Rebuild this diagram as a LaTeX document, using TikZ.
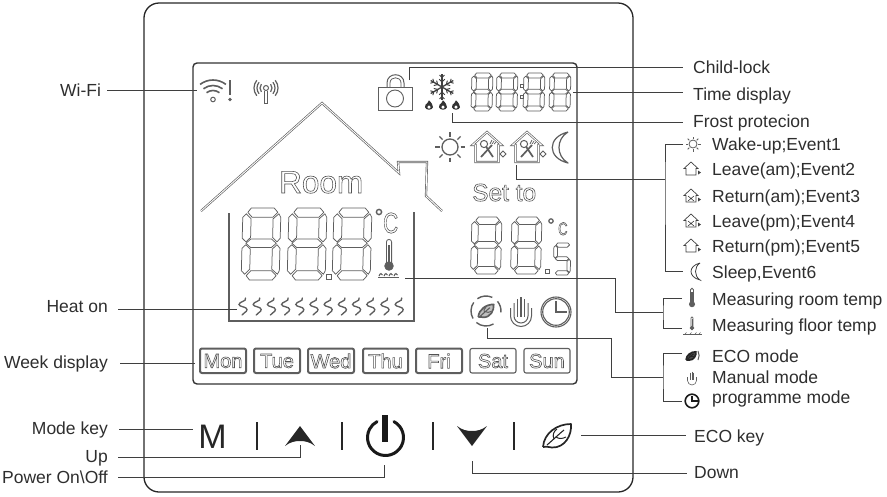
\documentclass[tikz,border=0pt]{standalone}
\usepackage{fontspec}
\setmainfont{Liberation Sans}
\definecolor{lcdgray}{HTML}{5E5E5E}
\definecolor{leadc}{HTML}{3F3F3F}
\definecolor{labc}{HTML}{2E2E2E}
\newcommand{\outl}[1]{\special{pdf:code 1 Tr 0.6 w 0.32 G}#1\special{pdf:code 0 Tr}}
\newcommand{\segtop}{\draw[segl] (.13,.06)--(.22,0)--(.82,0)--(.92,.06)--(.79,.13)--(.25,.13)--cycle;}
\newcommand{\segul}{\draw[segl] (.09,.08)--(.22,.15)--(.22,.41)--(.10,.47)--(0,.42)--(0,.13)--cycle;}
\newcommand{\segur}{\draw[segl] (.95,.08)--(.80,.15)--(.80,.41)--(.92,.47)--(1,.42)--(1,.13)--cycle;}
\newcommand{\segmid}{\draw[segl] (.10,.49)--(.23,.43)--(.77,.43)--(.90,.49)--(.77,.55)--(.23,.55)--cycle;}
\newcommand{\segll}{\draw[segl] (.09,.92)--(.22,.85)--(.22,.57)--(.10,.51)--(0,.56)--(0,.87)--cycle;}
\newcommand{\seglr}{\draw[segl] (.95,.92)--(.80,.85)--(.80,.57)--(.92,.51)--(1,.56)--(1,.87)--cycle;}
\newcommand{\segbot}{\draw[segl] (.13,.94)--(.22,1)--(.82,1)--(.92,.94)--(.79,.87)--(.25,.87)--cycle;}
\newcommand{\sevenseg}[4]{\begin{scope}[shift={(#1,#2)},xscale=#3,yscale=#4,xslant=.05]\segtop\segul\segur\segmid\segll\seglr\segbot\end{scope}}
\tikzset{
  x=1pt,y=-1pt,
  segl/.style={draw=lcdgray,line width=.75pt,line join=round},
  lcdl/.style={draw=lcdgray,line width=.7pt},
  lead/.style={draw=leadc,line width=.8pt},
  lab/.style={anchor=base west,inner sep=0pt,text=labc,font=\fontsize{17.5}{20}\selectfont},
  labr/.style={lab,anchor=base east},
  dayb/.style={draw=lcdgray,rounded corners=2pt,line width=1.1pt},
  dayc/.style={draw=lcdgray,rounded corners=2pt,line width=2pt},
  dayt/.style={anchor=center,inner sep=0pt,font=\fontsize{20}{22}\selectfont},
  houseline/.style={draw=lcdgray,double=white,double distance=.9pt,line width=.65pt,line join=miter},
  iconw/.initial=1.3pt,
  leaffill/.initial=none,
  pics/sunicon/.style={code={
    \draw[lcdl,line width=\pgfkeysvalueof{/tikz/iconw}] (0,0) circle[radius=8];
    \foreach \a in {0,45,...,315}{\draw[lcdl,line width=\pgfkeysvalueof{/tikz/iconw}] (\a:10.5) -- (\a:15);}
  }},
  pics/bighouse/.style={code={
    \draw[houseline] (-11.5,-2)--(-14.5,-2)--(0,-15)--(14.5,-2)--(11.5,-2)--(11.5,15)--(-11.5,15)--cycle;
    \draw[lcdl,line width=1.7pt] (-1,-.5)--(6,10);
    \draw[lcdl,line width=1pt] (-3,-3) circle[radius=3.6];
    \draw[lcdl,line width=1.7pt] (-6,10)--(5,-2);
    \foreach \d in {0,2,4}{\draw[lcdl,line width=.7pt] ({3+\d},-3)--({5+\d},-7+\d/2);}
    \draw[lcdl,line width=.8pt] (13,7)--(16,4)--(19,7)--(16,10)--cycle;
  }},
  pics/smallhouse/.style={code={
    \draw[leadc,line width=.7pt] (-5,-.5)--(-7,-.5)--(0,-7)--(7,-.5)--(5,-.5)--(5,6)--(-5,6)--cycle;
    \fill[leadc] (7,1.5)--(10,3.5)--(7,5.5)--cycle;
  }},
  pics/smallhousex/.style={code={
    \draw[leadc,line width=.7pt] (-5,-.5)--(-7,-.5)--(0,-7)--(7,-.5)--(5,-.5)--(5,6)--(-5,6)--cycle;
    \draw[leadc,line width=.6pt] (-3,0)--(3,5) (3,0)--(-3,5);
    \fill[leadc] (7,1.5)--(10,3.5)--(7,5.5)--cycle;
  }},
  pics/thermo/.style={code={
    \draw[lcdl,line width=.8pt] (-2.6,9)--(-2.6,-12) arc[start angle=180,end angle=360,radius=2.6]--(2.6,9);
    \draw[lcdl,fill=lcdgray,line width=.8pt] (0,12) circle[radius=4.3];
    \fill[lcdgray] (-1,10) rectangle (1,-9);
  }},
  pics/waves/.style={code={
    \foreach \k in {0,1,2,3}{\draw[lcdl,line width=1.1pt] ({\k*5},0) .. controls ({\k*5+1},-3) and ({\k*5+3},-3) .. ({\k*5+3.5},-1);}
    \draw[lcdl,line width=.7pt] (-1,1.5)--(20,1.5);
  }},
  pics/squig/.style={code={
    \draw[lcdl,line width=1.35pt,line cap=round] (2.5,-8.5) .. controls (4,-5) and (-4,-5) .. (-4,-2) .. controls (-4,.5) and (4,0) .. (4,3) .. controls (4,6) and (0,6) .. (-1,8.5);
  }},
  pics/leafshape/.style={code={
    \draw[line width=1.7pt,line join=round,fill=\pgfkeysvalueof{/tikz/leaffill}] (-14,11) .. controls (-13,-3) and (0,-12) .. (14,-12) .. controls (15,-1) and (8,12) .. (-5,11.5) .. controls (-9,11) and (-12,10) .. (-14,11);
    \draw[line width=1.1pt] (-10,9) .. controls (-3,3) and (2,-2) .. (7,-6);
    \draw[line width=1pt] (-3,3) .. controls (-5,-1) and (-3,-5) .. (0,-7);
    \draw[line width=1pt] (-1,1) .. controls (2,3) and (5,3) .. (9,1);
  }}
}
\begin{document}
\begin{tikzpicture}
\useasboundingbox (0,0) rectangle (887,496);
% frames
\draw[draw=black!85,line width=1.3pt,rounded corners=15pt] (144,3) rectangle (633,492);
\draw[draw=black!80,line width=1.4pt,rounded corners=4pt] (193,63) rectangle (577,384);

% top icons
\begin{scope}[shift={(213,101)}]
  \foreach \r in {10.5,15.5,21}{
    \draw[lcdl,line width=1.6pt] ({\r*cos(-128)},{\r*sin(-128)}) arc[start angle=-128,end angle=-52,radius=\r];}
  \draw[lcdl,line width=1pt] (0,-1.5) circle[radius=2.3];
  \draw[lcdl,line width=1.3pt] (17,-21)--(17,-6);
  \draw[lcdl,line width=1.2pt] (17,-1.5) circle[radius=1];
\end{scope}
\node[inner sep=0pt] (wifisym) at (198,90) {};
\begin{scope}[shift={(266,91)}]
  \draw[lcdl,line width=1pt] (0,-3) circle[radius=2.5];
  \draw[lcdl,line width=1pt] (-1.2,-.5)--(-1.2,12)--(1.2,12)--(1.2,-.5);
  \foreach \r in {6,9,12}{
    \draw[lcdl,line width=1.2pt] ({\r*cos(140)},{-3+\r*sin(140)}) arc[start angle=140,end angle=220,radius=\r];
    \draw[lcdl,line width=1.2pt] ({\r*cos(-40)},{-3+\r*sin(-40)}) arc[start angle=-40,end angle=40,radius=\r];}
\end{scope}
% padlock
\draw[lcdl,line width=.9pt] (378,87) rectangle (412,110);
\draw[lcdl,line width=.9pt] (395,98.5) circle[radius=8.5];
\draw[lcdl,line width=1pt] (387,87)--(387,83) .. controls (387,72) and (404,72) .. (404,83)--(404,87);
\draw[lcdl,line width=.8pt] (390,87)--(390,83) .. controls (390,76) and (401,76) .. (401,83)--(401,87);
% snowflake
\begin{scope}[shift={(442,87)}]
  \foreach \a in {30,90,...,330}{
    \draw[draw=black!75,line width=1.3pt] (0,0)--(\a:13);
    \draw[draw=black!75,line width=1pt] (\a:5)--++(\a+45:4) (\a:5)--++(\a-45:4);
    \draw[draw=black!75,line width=1pt] (\a:9.5)--++(\a+45:3.5) (\a:9.5)--++(\a-45:3.5);}
\end{scope}
% flames
\foreach \fx in {429,443,456}{
  \begin{scope}[shift={(\fx,106)},scale=1.15]
    \fill[black!80] (0,-5) .. controls (1,-3) and (4,-2) .. (3.5,1) .. controls (3,4) and (-3,4) .. (-3.5,1) .. controls (-4,-1) and (-2,-2) .. (-1.5,-2.5) .. controls (-1,-3) and (-.5,-4) .. (0,-5);
    \fill[white] (0,1) circle[radius=1.5];
  \end{scope}}
% time digits
\sevenseg{472}{73}{21}{38}
\sevenseg{497}{73}{21}{38}
\sevenseg{524}{73}{21}{38}
\sevenseg{550}{73}{21}{38}
\draw[lcdl] (520.5,84.5) rectangle (523.5,87.5) (520.5,95.5) rectangle (523.5,98.5);
% event icons
\pic at (450,147) {sunicon};
\pic at (487,147) {bighouse};
\pic at (527,147) {bighouse};
\draw[lcdl,line width=1.2pt,line join=round] (568,132) .. controls (547,137) and (547,158) .. (568,163) .. controls (556,156) and (556,139) .. (568,132);
% house
\draw[houseline] (201,211)--(322,103)--(399,173)--(398,162)--(427,162)--(426,196)--(442,211);
\node[inner sep=0pt,anchor=base west,font=\fontsize{31.5}{34}\selectfont] (room) at (279,193) {\outl{Room}};
\node[inner sep=0pt,anchor=base west,font=\fontsize{24.5}{26}\selectfont] (setto) at (472,201) {\outl{Set to}};
% big digits
\sevenseg{243}{208}{38}{72}
\sevenseg{289}{208}{38}{72}
\sevenseg{334}{208}{38}{72}
\draw[lcdl] (326,274) rectangle (331,279);
\draw[lcdl,line width=1.4pt] (379,212) circle[radius=2.6];
\node[inner sep=0pt,anchor=base west,xscale=.72,font=\fontsize{29}{30}\selectfont] (cbig) at (383,233) {\outl{C}};
\pic at (389,254) {thermo};
\pic at (379,276) {waves};
\draw[draw=lcdgray,line width=1.5pt] (229,213)--(229,321)--(414,321)--(414,212);
\foreach \k in {0,...,11}{\pic at ({243+\k*14.2},306.5) {squig};}
% set digits
\sevenseg{472}{217}{30}{57}
\sevenseg{512}{217}{30}{57}
\draw[lcdl] (545,269) rectangle (549.5,273.5);
\draw[lcdl,line width=1.2pt] (551,221) circle[radius=2.2];
\node[inner sep=0pt,anchor=base west,xscale=.72,font=\fontsize{18}{20}\selectfont] (csmall) at (558,235) {\outl{C}};
\begin{scope}[shift={(554,243)},xscale=17,yscale=32,xslant=.05]
  \segtop\segul\segmid\seglr\segbot
\end{scope}
% mode icons
\begin{scope}[shift={(486,311)}]
  \pic[draw=lcdgray,scale=.55,leaffill=lcdgray!40] {leafshape};
  \foreach \a/\b in {-125/-65,-40/5,60/130,150/215}{
    \draw[lcdl,line width=1.4pt] ({15*cos(\a)},{15*sin(\a)}) arc[start angle=\a,end angle=\b,radius=15];}
\end{scope}
\begin{scope}[shift={(521,312)}]
  \draw[lcdl,line width=1pt] (-10.5,-4)--(-10.5,4) arc[start angle=180,end angle=0,radius=10.5]--(10.5,-4);
  \draw[lcdl,line width=1pt] (-7,-9)--(-7,4) arc[start angle=180,end angle=0,radius=7]--(7,-9);
  \draw[lcdl,line width=1.1pt] (-3.3,-13)--(-3.3,5) (0,-15)--(0,5) (3.3,-13)--(3.3,5);
\end{scope}
\draw[lcdl,line width=1.1pt] (556,312) circle[radius=15];
\draw[lcdl,line width=1.1pt] (556,312) circle[radius=13.3];
\draw[lcdl,line width=1.2pt] (556,301)--(556,312)--(567,312);
% days
\foreach \xa/\xb/\st/\dn/\tx in {200/246/dayc/mon/Mon,254/300/dayc/tue/Tue,308/354/dayc/wed/Wed,363/408/dayc/thu/Thu,416/462/dayc/fri/Fri,470/516/dayb/sat/Sat,524/570/dayb/sun/Sun}{
  \draw[\st] (\xa,348.5) rectangle (\xb,373);
  \node[dayt] (d\dn) at ({(\xa+\xb)/2},361) {\outl{\tx}};
}
% keys
\node[inner sep=0pt,anchor=base,text=black!85,font=\fontsize{34}{36}\selectfont] (mkey) at (212.5,448) {M};
\foreach \sx in {257,342,433,514}{\draw[black!85,line width=1.3pt] (\sx,422)--(\sx,450);}
\fill[black!85] (300,426)--(315,446) .. controls (310,442) and (305,441) .. (300,441) .. controls (295,441) and (290,442) .. (285,446)--cycle;
\fill[black!85] (472,446)--(457,426) .. controls (462,430) and (467,431) .. (472,431) .. controls (477,431) and (482,430) .. (487,426)--cycle;
\draw[black!90,line width=3pt,line cap=round] ({385.5+18*cos(-62)},{437.5+18*sin(-62)}) arc[start angle=-62,end angle=242,radius=18];
\draw[black!90,line width=5.5pt] (385,415)--(385,442);
\pic[draw=black!85] at (557,436) {leafshape};
% labels
\node[lab] (lwifi) at (60,96) {Wi-Fi};
\node[labr] (lheat) at (108,312) {Heat on};
\node[labr] (lweek) at (108,368) {Week display};
\node[labr] (lmode) at (108,434) {Mode key};
\node[labr] (lup) at (108,462) {Up};
\node[labr] (lpow) at (108,483) {Power On\textbackslash Off};
\node[lab] (lchild) at (693,73) {Child-lock};
\node[lab] (ltime) at (693,100) {Time display};
\node[lab] (lfrost) at (693,127) {Frost protecion};
\node[lab] (lwake) at (712,150) {Wake-up;Event1};
\node[lab] (lleavea) at (712,175) {Leave(am);Event2};
\node[lab] (lreta) at (712,202) {Return(am);Event3};
\node[lab] (lleavep) at (712,227) {Leave(pm);Event4};
\node[lab] (lretp) at (712,252) {Return(pm);Event5};
\node[lab] (lsleep) at (712,278) {Sleep,Event6};
\node[lab] (lroomt) at (712,305) {Measuring room temp};
\node[lab] (lfloort) at (712,331) {Measuring floor temp};
\node[lab] (leco) at (712,362) {ECO mode};
\node[lab] (lman) at (712,383) {Manual mode};
\node[lab] (lprog) at (712,403) {programme mode};
\node[lab] (lecok) at (694,442) {ECO key};
\node[lab] (ldown) at (694,478) {Down};
% side icons
\pic[iconw=.8pt,scale=.5] at (693,144) {sunicon};
\pic at (691,169) {smallhouse};
\pic at (691,196) {smallhousex};
\pic at (691,221) {smallhousex};
\pic at (691,246) {smallhouse};
\draw[leadc,line width=.8pt] (700,263) .. controls (688,266) and (688,277) .. (700,280) .. controls (694,276) and (694,267) .. (700,263);
\pic[scale=.6] at (692,297) {thermo};
\pic[scale=.42] at (692,323) {thermo};
\draw[lcdl] (683,334.5)--(702,334.5);
\foreach \wx in {685,690,695,699}{\draw[lcdl,line width=.6pt] (\wx,334)--(\wx+1.5,332.5);}
\pic[draw=black!85,scale=.35,leaffill=black!70] at (691,356) {leafshape};
\draw[lcdl,line width=1pt] (698,351) .. controls (699.5,354) and (699.5,357) .. (698,360);
\begin{scope}[shift={(692,379)},scale=.5]
  \draw[lcdl,line width=.6pt] (-9,-4)--(-9,3) arc[start angle=180,end angle=0,radius=9]--(9,-4);
  \draw[lcdl,line width=.6pt] (-3.3,-13)--(-3.3,2) (0,-15)--(0,2) (3.3,-13)--(3.3,2);
\end{scope}
\draw[black!90,line width=1.6pt] (692,401) circle[radius=6.8];
\draw[black!90,line width=1.4pt] (692,396)--(692,401)--(698,401);
% leader anchor coordinates
\coordinate (awifi) at (107,90);
\coordinate (aheat) at (118,309);
\coordinate (hheat) at (237,309);
\coordinate (aweek) at (120,363);
\coordinate (hweek) at (195,363);
\coordinate (amode) at (119,429);
\coordinate (hmode) at (193,429);
\coordinate (aup) at (118,457);
\coordinate (hup) at (300,445);
\coordinate (apow) at (118,477);
\coordinate (hpow) at (384,465);
\coordinate (achild) at (683,67);
\coordinate (hchild) at (409,80);
\coordinate (atime) at (683,92);
\coordinate (htime) at (573,92);
\coordinate (afrost) at (683,122);
\coordinate (hfrost) at (452,113);
\coordinate (hev) at (516,165);
\coordinate (jev) at (665,179);
\coordinate (aevt) at (683,144);
\coordinate (aevb) at (683,271);
\coordinate (htemp) at (405,278);
\coordinate (btemp) at (615,278);
\coordinate (jtemp) at (663,312);
\coordinate (atempt) at (682,298);
\coordinate (atempb) at (682,328);
\coordinate (hmod) at (487,328);
\coordinate (bmod) at (611,338);
\coordinate (jmod) at (663,377);
\coordinate (amodt) at (682,353);
\coordinate (amodb) at (682,401);
\coordinate (hecok) at (581,435);
\coordinate (aecok) at (686,435);
\coordinate (hdown) at (472,461);
\coordinate (adown) at (687,473);
% leaders
\draw[lead] (awifi)--(wifisym);
\draw[lead] (aheat)--(hheat);
\draw[lead] (aweek)--(hweek);
\draw[lead] (amode)--(hmode);
\draw[lead] (aup)-|(hup);
\draw[lead] (apow)-|(hpow);
\draw[lead] (hchild)|-(achild);
\draw[lead] (htime)--(atime);
\draw[lead] (hfrost)|-(afrost);
\draw[lead] (hev)|-(jev);
\draw[lead] (aevt)-|(jev)|-(aevb);
\draw[lead] (htemp)--(btemp)|-(jtemp);
\draw[lead] (atempt)-|(jtemp)|-(atempb);
\draw[lead] (hmod)|-(bmod)|-(jmod);
\draw[lead] (amodt)-|(jmod)|-(amodb);
\draw[lead] (hecok)--(aecok);
\draw[lead] (hdown)|-(adown);
\end{tikzpicture}
\end{document}
